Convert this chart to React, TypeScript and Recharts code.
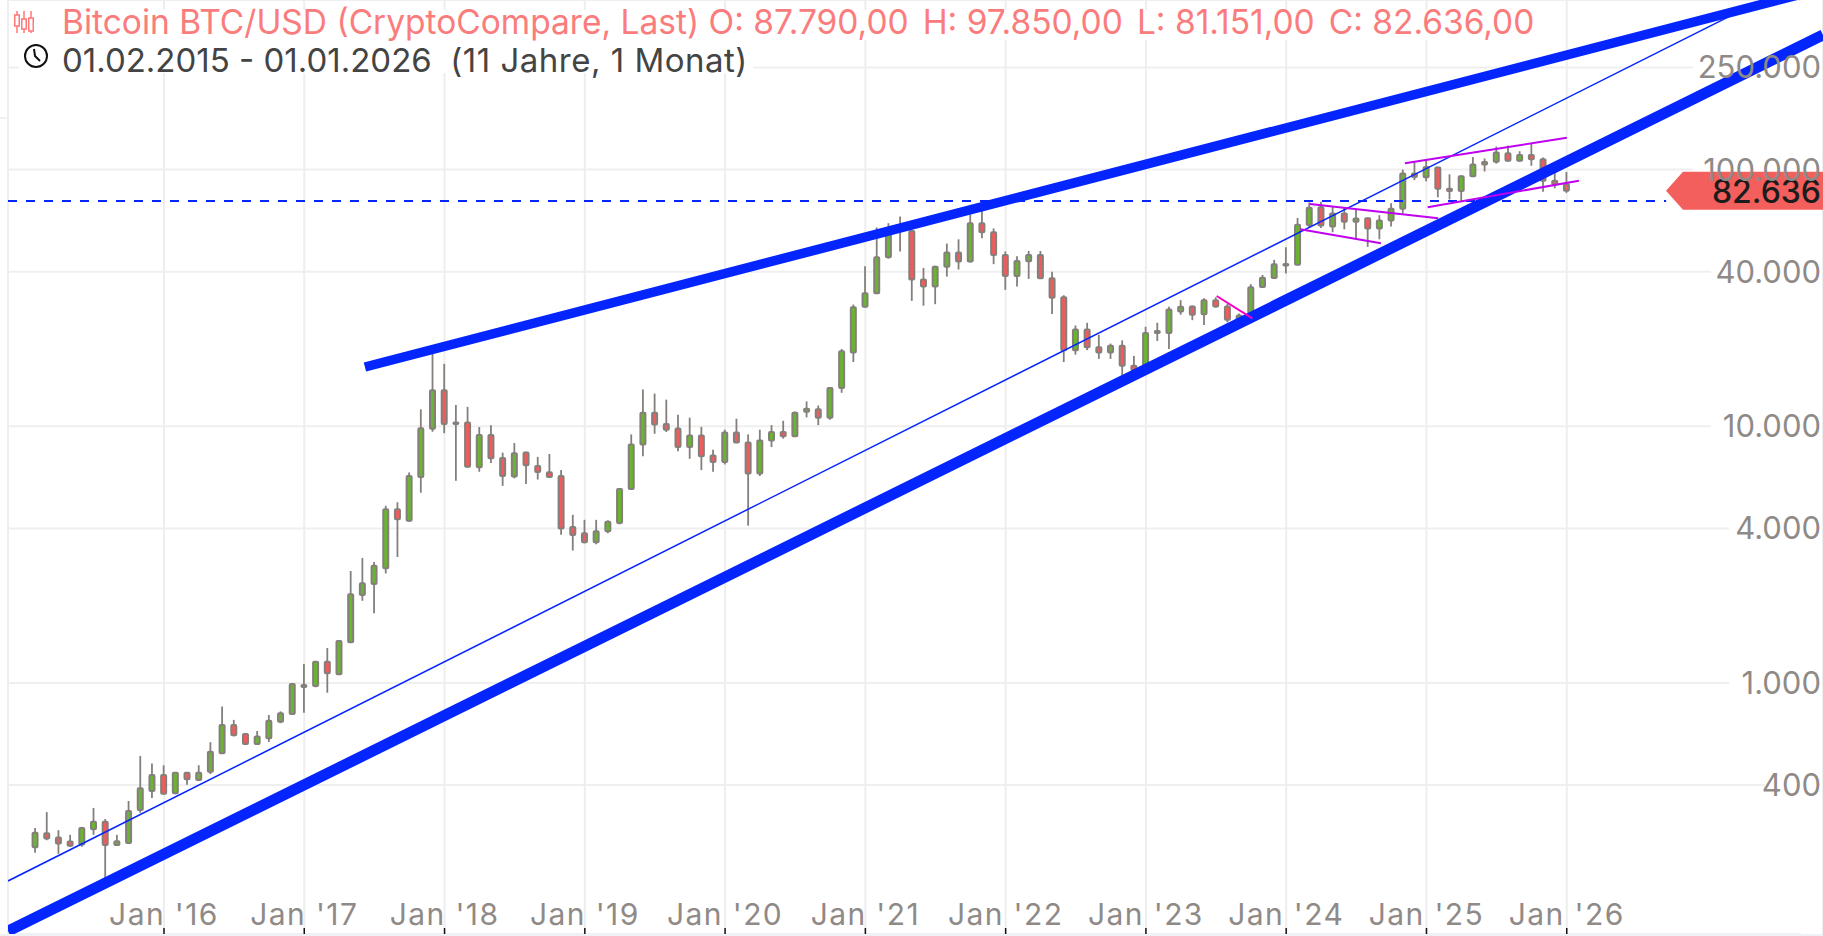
import React from "react";
import {
  Bar,
  CartesianGrid,
  ComposedChart,
  ReferenceLine,
  XAxis,
  YAxis,
} from "recharts";

const WIDTH = 1823;
const HEIGHT = 936;

// monthly candles, Feb 2015 (index 0) to Jan 2026 (index 131)
const opens = [
  229, 260, 250, 241, 235, 269, 288, 234, 238, 320, 379, 438, 372, 447, 419, 451, 532, 686, 633, 578, 609, 706, 757, 965,
  973, 1210, 1081, 1441, 2202, 2431, 2798, 4750, 4287, 6350, 9780, 13830, 10250, 10340, 6930, 9250, 7530, 6370, 7900, 7000,
  6620, 6400, 4050, 3830, 3530, 3900, 4200, 5700, 8500, 11300, 10200, 9800, 8300, 9200, 7700, 7250, 9450, 8650, 6550, 8800,
  9500, 9150, 11400, 11650, 10800, 14100, 19400, 29200, 33000, 45500, 58900, 57700, 37300, 35000, 41800, 47500, 43800, 61800,
  57000, 46500, 38500, 43900, 46500, 37700, 31800, 19800, 23800, 20300, 19400, 20600, 17200, 16600, 23100, 23100, 28000,
  29300, 27300, 31000, 29300, 26000, 27200, 34900, 37800, 42600, 42600, 60800, 71300, 60000, 67500, 62700, 64700, 58900,
  63300, 70300, 96500, 93400, 102000, 84300, 82500, 94200, 104700, 107200, 115700, 108200, 114000, 109600, 90400, 87790,
];
const highs = [
  272, 314, 267, 256, 275, 326, 295, 256, 347, 519, 486, 478, 450, 450, 478, 588, 809, 718, 636, 650, 750, 775, 1000, 1186,
  1215, 1368, 1470, 2730, 3070, 2958, 4900, 5058, 6607, 11640, 19130, 17500, 12100, 11900, 9930, 10100, 7900, 8600, 7950, 7600,
  7800, 6750, 4520, 4320, 4320, 4300, 5700, 9300, 13900, 13400, 12700, 11100, 10800, 9950, 8100, 9700, 10700, 9300, 9700, 10100,
  10500, 11400, 12500, 12050, 14100, 20000, 29800, 42000, 59500, 61800, 65600, 58500, 41400, 42200, 51500, 53500, 67000, 69000,
  59000, 48000, 46000, 48200, 48200, 40000, 32400, 24700, 25300, 22700, 21000, 21600, 18800, 24400, 25300, 29200, 31000,
  29500, 31500, 31800, 30000, 27500, 35800, 38900, 44500, 49800, 64800, 74500, 75000, 71900, 71500, 70000, 65000, 66400,
  74000, 100000, 108000, 109500, 102500, 95800, 95000, 111900, 110500, 123000, 124000, 117900, 126000, 111500, 97000, 97850,
];
const lows = [
  218, 244, 216, 230, 230, 256, 171, 232, 237, 312, 356, 368, 369, 401, 415, 442, 530, 620, 576, 574, 589, 697, 755, 766,
  962, 916, 1075, 1435, 2090, 1868, 2672, 3095, 4250, 5510, 9520, 9400, 6130, 6900, 6650, 7200, 5860, 6270, 5960, 6200,
  6300, 3780, 3280, 3500, 3470, 3830, 4150, 5650, 7650, 9350, 9500, 8000, 7470, 6750, 6650, 7100, 8600, 4100, 6400, 8300,
  8950, 9100, 10830, 10100, 10600, 13500, 17800, 29000, 32800, 45000, 48000, 30800, 29500, 29900, 38300, 40800, 43500, 54000,
  42800, 34000, 35000, 37500, 37500, 27400, 17800, 19000, 19800, 18300, 18300, 15600, 16300, 16300, 21500, 20000, 27200,
  25900, 24800, 29000, 25400, 24900, 26500, 34700, 37600, 39400, 42400, 59200, 59200, 57000, 58500, 53500, 50000, 53500,
  60000, 67500, 91000, 90000, 78000, 76500, 75000, 93500, 98300, 105500, 107500, 107500, 103500, 82000, 84500, 81151,
];
const closes = [
  261, 248, 237, 232, 272, 288, 234, 242, 317, 389, 438, 370, 447, 422, 447, 540, 686, 625, 578, 618, 713, 762, 991, 982,
  1210, 1091, 1457, 2216, 2445, 2864, 4750, 4342, 6404, 9820, 13830, 10200, 10350, 6950, 9250, 7500, 6400, 7850, 7050, 6630,
  6350, 4000, 3770, 3530, 3900, 4250, 5700, 8500, 11300, 10150, 9700, 8300, 9200, 7650, 7250, 9450, 8650, 6550, 8800, 9500,
  9150, 11300, 11700, 10800, 14100, 19600, 29100, 33000, 45500, 59000, 57700, 37300, 35000, 41800, 47500, 43800, 61800, 57000,
  46500, 38500, 44000, 46500, 37700, 31700, 19800, 23800, 20300, 19400, 20600, 17200, 16550, 23100, 23500, 28500, 29200,
  27200, 31000, 29300, 26000, 27000, 34800, 37900, 42800, 42900, 61000, 71000, 60600, 67500, 62700, 64500, 58900, 63300,
  70300, 96500, 93500, 102400, 84300, 82500, 94200, 104600, 107000, 116500, 108200, 114000, 109600, 90400, 87700, 82636,
];

const yTicks = [400, 1000, 4000, 10000, 40000, 100000, 250000];
const xTicks = [11, 23, 35, 47, 59, 71, 83, 95, 107, 119, 131];
const xTickLabels = ["Jan '16", "Jan '17", "Jan '18", "Jan '19", "Jan '20", "Jan '21", "Jan '22", "Jan '23", "Jan '24", "Jan '25", "Jan '26"];
const ohlcLabels = ["H: 97.850,00", "L: 81.151,00", "C: 82.636,00"];

// trend lines as [month, price] pairs
const upperLine = [[28.19, 17020], [152.92, 507600]];
const lowerLine = [[-2.344, 108], [152.92, 334500]];
const thinLine = [[-2.344, 169.3], [144.96, 396300]];
const dashedLine = [[-2.344, 75500], [139.5, 75500]];
const pinkLine = [[101.05, 32180], [104.1, 26340]];
const purpleLines = [
  [[109.03, 73450], [120.0, 64600]],
  [[108.2, 58540], [115.1, 51630]],
  [[117.16, 105800], [131, 133100]],
  [[119.1, 71300], [132.04, 90500]],
];

const candles = opens.map((open, i) => ({
  month: i,
  open,
  close: closes[i],
  high: highs[i],
  low: lows[i],
  range: [lows[i], highs[i]],
}));

const FONT = "Inter, sans-serif";
const GREY = "#8f8a87";
const BLUE = "#0525ff";
const fmt = (v: number) => v.toLocaleString("de-DE");

function Candle(props: any) {
  const { x, y, width, height, payload } = props;
  const { open, close, high, low } = payload;
  const span = Math.log(high) - Math.log(low);
  const yOf = (v: number) => y + (height * (Math.log(high) - Math.log(v))) / span;
  const top = yOf(Math.max(open, close));
  const bottom = yOf(Math.min(open, close));
  const cx = x + width / 2;
  return (
    <g>
      <line x1={cx} x2={cx} y1={y} y2={y + height} stroke="#857f7b" strokeWidth={1.8} />
      <rect
        x={x + 1}
        y={top}
        width={width - 2}
        height={Math.max(bottom - top, 1.5)}
        rx={1}
        fill={close >= open ? "#6ab52f" : "#f05c5c"}
        stroke="#857f7b"
        strokeWidth={2}
      />
    </g>
  );
}

function XTick({ x, y, payload }: any) {
  return (
    <g>
      <line x1={x} x2={x} y1={y - 6} y2={y} stroke="#111" strokeWidth={1.5} />
      <text x={x} y={y - 9} textAnchor="middle" fontFamily={FONT} fontSize={30} letterSpacing={1.4} fill={GREY}>
        {xTickLabels[xTicks.indexOf(payload.value)]}
      </text>
    </g>
  );
}

function YTick({ y, payload }: any) {
  return (
    <text x={WIDTH - 2} y={y + 11} textAnchor="end" fontFamily={FONT} fontSize={31} fill={GREY}>
      {fmt(payload.value)}
    </text>
  );
}

function PriceTag({ y1 }: any) {
  return (
    <g>
      <polygon
        points={`1666,${y1} 1683,${y1 - 19} ${WIDTH},${y1 - 19} ${WIDTH},${y1 + 19} 1683,${y1 + 19}`}
        fill="#f25f5c"
      />
      <text x={WIDTH - 2} y={y1 + 12} textAnchor="end" fontFamily={FONT} fontSize={32} fontWeight={500} fill="#1c1c1c">
        {fmt(closes[closes.length - 1])}
      </text>
    </g>
  );
}

function GridRow(props: any) {
  const { x1, x2, y1, y2, index } = props;
  const label = fmt(yTicks[index] ?? 0);
  return <line x1={x1} x2={x2 - label.length * 18 - 4} y1={y1} y2={y2} stroke="#efefef" strokeWidth={2} />;
}

const segment = (pair: number[][]) => pair.map(([x, y]) => ({ x, y }));

export default function App() {
  return (
    <div style={{ position: "absolute", left: 0, top: 0, width: WIDTH, height: HEIGHT, overflow: "hidden", background: "#fff" }}>
      <ComposedChart
        width={WIDTH}
        height={HEIGHT}
        data={candles}
        margin={{ top: 0, right: 0, bottom: 2, left: 8 }}
      >
        <CartesianGrid horizontal={GridRow} stroke="#eeeeee" strokeWidth={2} />
        <XAxis
          dataKey="month"
          type="number"
          domain={[-2.344, 152.92]}
          ticks={xTicks}
          tick={XTick}
          height={1}
          mirror
          tickSize={0}
          tickMargin={0}
          interval={0}
          axisLine={false}
          tickLine={false}
          allowDataOverflow
        />
        <YAxis
          type="number"
          scale="log"
          orientation="right"
          domain={[105.2, 457800]}
          ticks={yTicks}
          tick={YTick}
          width={1}
          mirror
          interval={0}
          axisLine={false}
          tickLine={false}
          allowDataOverflow
        />
        <Bar dataKey="range" barSize={7} shape={Candle} isAnimationActive={false} />
        <ReferenceLine segment={segment(thinLine)} stroke={BLUE} strokeWidth={1.5} ifOverflow="hidden" />
        <ReferenceLine segment={segment(upperLine)} stroke={BLUE} strokeWidth={9.5} ifOverflow="hidden" />
        <ReferenceLine segment={segment(lowerLine)} stroke={BLUE} strokeWidth={11} ifOverflow="hidden" />
        <ReferenceLine segment={segment(dashedLine)} stroke={BLUE} strokeWidth={2} strokeDasharray="9 9" ifOverflow="hidden" />
        <ReferenceLine segment={segment(pinkLine)} stroke="#f800c8" strokeWidth={2} ifOverflow="hidden" />
        {purpleLines.map((l, i) => (
          <ReferenceLine key={i} segment={segment(l)} stroke="#c000f0" strokeWidth={2} ifOverflow="hidden" />
        ))}
        <ReferenceLine y={closes[closes.length - 1]} stroke="none" shape={PriceTag} ifOverflow="hidden" />
      </ComposedChart>

      <div style={{ position: "absolute", left: 19, top: 10, width: 1519, height: 30, background: "#fff" }} />
      <div style={{ position: "absolute", left: 19, top: 40, width: 734, height: 33, background: "#fff" }} />
      <svg width={20} height={24} style={{ position: "absolute", left: 14, top: 10 }} fill="none" stroke="#f77">
        <path d="M3 1v22M10 1v22M17 1v22" strokeWidth={1.5} />
        <rect x={0.75} y={5} width={4.5} height={11} fill="#fff" strokeWidth={1.5} />
        <rect x={7.75} y={9} width={4.5} height={10} fill="#fff" strokeWidth={1.5} />
        <rect x={14.75} y={8} width={4.5} height={13} fill="#fff" strokeWidth={1.5} />
      </svg>
      <svg width={26} height={26} style={{ position: "absolute", left: 23, top: 43 }} fill="none" stroke="#111" strokeWidth={2}>
        <circle cx={13} cy={13} r={11} />
        <path d="M11 6l1 7 5 5" />
      </svg>
      <div style={{ position: "absolute", left: 62, top: 2, fontFamily: FONT, fontSize: 33.5, lineHeight: "40px", color: "#fa7c7c", whiteSpace: "pre" }}>
        Bitcoin BTC/USD (CryptoCompare, Last) O: 87.790,00
        {ohlcLabels.map((label) => (
          <span key={label} style={{ marginLeft: 14 }}>{label}</span>
        ))}
      </div>
      <div style={{ position: "absolute", left: 62, top: 40, fontFamily: FONT, fontSize: 33, lineHeight: "40px", color: "#444", whiteSpace: "pre" }}>
        01.02.2015 - 01.01.2026  <span style={{ letterSpacing: 0.5 }}>(11 Jahre, 1 Monat)</span>
      </div>
      <div style={{ position: "absolute", left: 0, top: 117, width: 8, height: 2, background: "#eef2f6" }} />
      <div style={{ position: "absolute", left: 0, top: 934, width: WIDTH, height: 2, background: "#eef2f6" }} />
    </div>
  );
}
